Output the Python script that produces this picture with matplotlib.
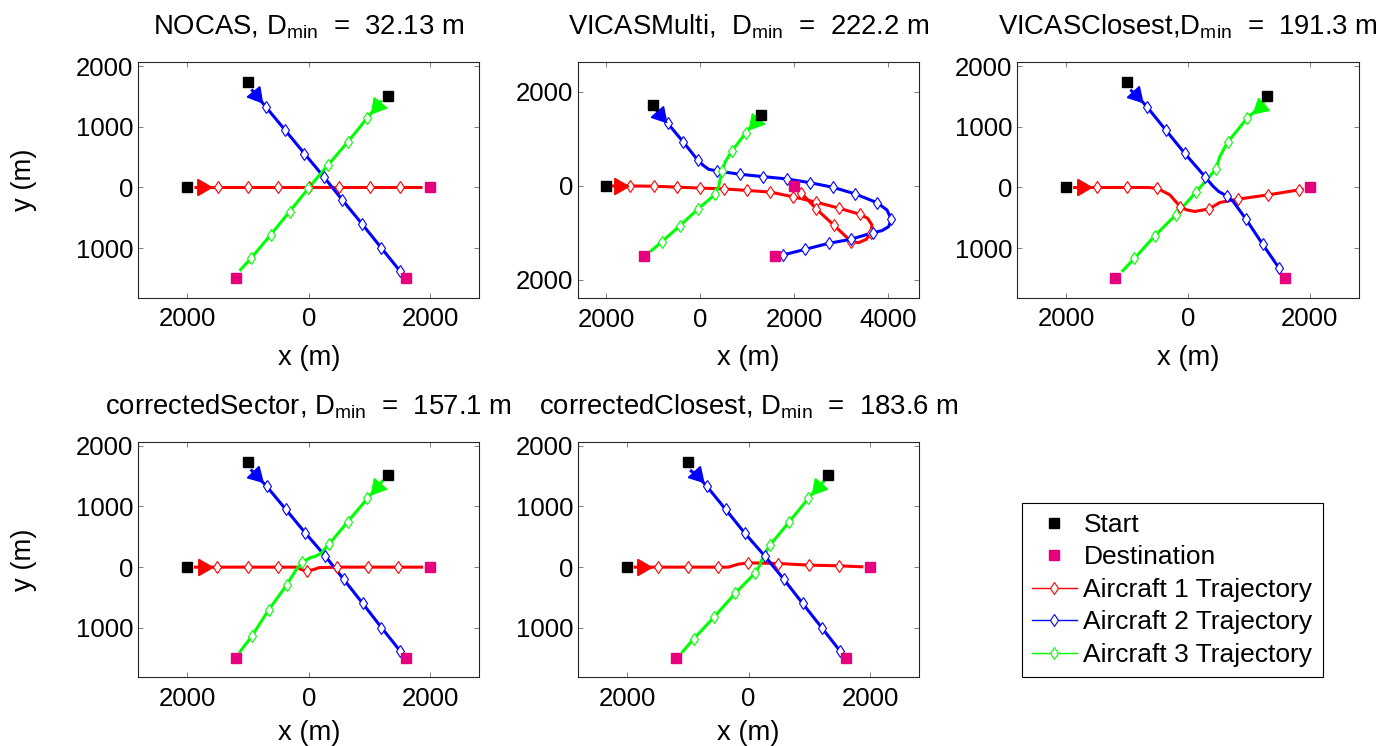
import numpy as np
import matplotlib.pyplot as plt
from matplotlib.lines import Line2D

plt.rcParams['font.family'] = ['Liberation Sans', 'DejaVu Sans']
plt.rcParams['mathtext.fontset'] = 'custom'
plt.rcParams['mathtext.rm'] = 'Liberation Sans'

# =========================
# DATA (m)
# =========================
start_x = [-2000, -1000, 1300]
start_y = [0, 1732, 1513]
dest_x = [2000, 1597, -1200]
dest_y = [0, -1495, -1495]

# path codes: '-' plain vertex, 'a' direction arrow, 'd' diamond marker
nocas_x = [[-1890, -1750, -1500, -1000, -500, 0, 500, 1000, 1500, 1870],
           [-945, -870, -712, -395, -71, 247, 554, 872, 1189, 1497, 1535],
           [1200, 1118, 959, 641, 313, -5, -317, -630, -949, -1140]]
nocas_y = [[0, 0, 0, 0, 0, 0, 0, 0, 0, 0],
           [1615, 1527, 1333, 951, 557, 175, -208, -595, -989, -1372, -1426],
           [1430, 1336, 1143, 749, 366, -11, -398, -782, -1164, -1372]]
nocas_k = ["-addddddd-", "-adddddddd-", "-addddddd-"]

multi_x = [[-1880, -1740, -1489, -993, -496, 0, 496, 994, 1489, 1972, 2468, 2943, 3404,
            3560, 3652, 3631, 3532, 3369, 3213, 2837, 2468, 2142, 2030],
           [-940, -851, -695, -369, -57, 60, 177, 355, 851, 1333, 1844, 2326, 2823, 3298, 3759,
            3972, 4064, 4007, 3865, 3674, 3206, 2730, 2234, 1759, 1730],
           [1260, 1170, 972, 674, 532, 461, 390, 319, -57, -440, -816, -1064]]
multi_y = [[0, 0, 0, -5, -25, -45, -62, -95, -130, -230, -345, -470, -605,
            -688, -830, -1000, -1135, -1206, -1185, -830, -489, -142, -30],
           [1620, 1511, 1333, 943, 553, 440, 355, 319, 248, 199, 149, 71, -28, -170, -355,
            -511, -709, -866, -951, -993, -1135, -1220, -1348, -1468, -1476],
           [1470, 1369, 1135, 745, 518, 319, -14, -177, -496, -851, -1184, -1397]]
multi_k = ["-addddddddddd--d--dddd-", "-addd--dddddddd-d--ddddd-", "-add-d-dddd-"]

closest_x = [[-1890, -1749, -1500, -1000, -650, -504, -301, -181, -137, -27, 110, 345, 521,
              811, 1316, 1815, 1897],
             [-950, -855, -680, -367, -55, 274, 400, 500, 631, 740, 949, 1223, 1497, 1524],
             [1250, 1184, 970, 655, 590, 521, 455, 137, -203, -548, -883, -1091]]
closest_y = [[0, 0, 0, 0, 0, -15, -121, -258, -313, -368, -395, -351, -247,
              -193, -121, -40, -25],
             [1610, 1525, 1333, 945, 561, 181, 30, -65, -137, -231, -521, -934, -1333, -1372],
             [1420, 1333, 1142, 755, 640, 510, 302, -66, -450, -796, -1169, -1388]]
closest_k = ["-add-d--d--d-ddd-", "-adddd--d-ddd-", "-add--ddddd-"]

sector_x = [[-1890, -1738, -1510, -1000, -500, -213, -110, -22, 80, 170, 471, 970, 1475, 1880],
            [-955, -872, -696, -378, -60, 265, 576, 888, 1195, 1502, 1540],
            [1220, 1129, 965, 640, 334, 197, 100, 33, -104, -213, -367, -663, -938, -1146]]
sector_y = [[0, 0, 0, 0, 0, 0, -45, -60, -40, -8, 0, 0, 0, 0],
            [1610, 1516, 1335, 951, 566, 190, -203, -599, -995, -1379, -1430],
            [1430, 1324, 1132, 747, 379, 225, 175, 159, 88, -49, -297, -709, -1137, -1412]]
sector_k = ["-addd--d--ddd-", "-adddddddd-", "-addd---d-ddd-"]

corrclosest_x = [[-1890, -1747, -1496, -1003, -499, -334, -170, -5, 488, 992, 1485, 1885],
                 [-964, -855, -690, -378, -60, 268, 581, 888, 1200, 1501, 1545],
                 [1255, 1145, 981, 668, 351, 268, 214, 186, 110, -225, -564, -899, -1101]]
corrclosest_y = [[0, 0, 0, 0, 0, 0, 49, 71, 60, 33, 22, 5],
                 [1599, 1516, 1335, 951, 555, 181, -203, -599, -995, -1379, -1434],
                 [1434, 1324, 1132, 747, 363, 225, 115, 33, -93, -434, -819, -1176, -1412]]
corrclosest_k = ["-addd--dddd-", "-adddddddd-", "-addd---dddd-"]

titles = [r"NOCAS, $\mathregular{D_{min}}$  =  32.13 m",
          r"VICASMulti,  $\mathregular{D_{min}}$  =  222.2 m",
          r"VICASClosest,$\mathregular{D_{min}}$  =  191.3 m",
          r"correctedSector, $\mathregular{D_{min}}$  =  157.1 m",
          r"correctedClosest, $\mathregular{D_{min}}$  =  183.6 m"]

cores = ['#ff0000', '#0000ff', '#00ff00']
cor_dest = '#e6007e'

# =========================
# FIGURA
# =========================
W, H = 1379, 746
fig = plt.figure(figsize=(W / 100, H / 100), dpi=100)


def eixo(l, t, r, b):
    return fig.add_axes([l / W, 1 - b / H, (r - l) / W, (b - t) / H])


def desenhar(ax, xs, ys, ks):
    for x, y, k, c in zip(xs, ys, ks, cores):
        x = np.array(x, dtype=float)
        y = np.array(y, dtype=float)
        ax.plot(x, y, color=c, lw=2.2, zorder=2, solid_capstyle='butt')
        d = [i for i, ch in enumerate(k) if ch == 'd']
        ax.plot(x[d], y[d], ls='none', marker='d', ms=6.5, mec=c, mfc='white',
                mew=0.8, zorder=3)
        i = k.index('a')
        ang = np.degrees(np.arctan2(y[i + 1] - y[i], x[i + 1] - x[i]))
        ax.plot(x[i], y[i], ls='none', marker=(3, 0, ang - 90), ms=13.5,
                color=c, mec=c, zorder=3)
    ax.plot(start_x, start_y, ls='none', marker='s', ms=7.5, color='k', zorder=4)
    ax.plot(dest_x, dest_y, ls='none', marker='s', ms=7.5, color=cor_dest, zorder=4)


def estilo(ax, titulo, xt, xtl, yt, ytl, xlim, ylim, ylabel, xlab_y=-0.2):
    ax.set_xlim(xlim)
    ax.set_ylim(ylim)
    ax.set_xticks(xt, xtl)
    ax.set_yticks(yt, ytl)
    ax.tick_params(axis='both', direction='in', length=3.4, width=0.7, color='#7f7f7f',
                   top=True, right=True, labelsize=18.5, labelcolor='black')
    ax.tick_params(axis='x', pad=7)
    ax.tick_params(axis='y', pad=3.6)
    for s in ax.spines.values():
        s.set_color('#262626')
        s.set_linewidth(0.8)
    ax.set_title(titulo, fontsize=19.8, pad=20)
    ax.set_xlabel("x (m)", fontsize=19.8)
    ax.xaxis.set_label_coords(0.5, xlab_y)
    if ylabel:
        ax.set_ylabel("y (m)", fontsize=19.8)
        ax.yaxis.set_label_coords(-0.298, 0.5)


xt = [-2000, 0, 2000]
xtl = ["2000", "0", "2000"]
yt = [-1000, 0, 1000, 2000]
ytl = ["1000", "0", "1000", "2000"]
xlim = (-2806, 2806)
ylim = (-1815, 2062)

ax1 = eixo(138.3, 62.3, 479.3, 297.7)
desenhar(ax1, nocas_x, nocas_y, nocas_k)
estilo(ax1, titles[0], xt, xtl, yt, ytl, xlim, ylim, True)

ax2 = eixo(578, 62.3, 919.3, 298.3)
desenhar(ax2, multi_x, multi_y, multi_k)
estilo(ax2, titles[1], [-2000, 0, 2000, 4000], ["2000", "0", "2000", "4000"],
       [-2000, 0, 2000], ["2000", "0", "2000"], (-2603, 4660), (-2390, 2631), False)

ax3 = eixo(1017.3, 62.3, 1359, 297.7)
desenhar(ax3, closest_x, closest_y, closest_k)
estilo(ax3, titles[2], xt, xtl, yt, ytl, xlim, ylim, False)

ax4 = eixo(138.3, 442, 479.3, 677.3)
desenhar(ax4, sector_x, sector_y, sector_k)
estilo(ax4, titles[3], xt, xtl, yt, ytl, xlim, ylim, True, xlab_y=-0.18)

ax5 = eixo(578, 442, 919.3, 677.3)
desenhar(ax5, corrclosest_x, corrclosest_y, corrclosest_k)
estilo(ax5, titles[4], xt, xtl, yt, ytl, xlim, ylim, False, xlab_y=-0.18)

# =========================
# LEGENDA
# =========================
handles = [
    Line2D([], [], ls='none', marker='s', ms=7.5, color='k', label='Start'),
    Line2D([], [], ls='none', marker='s', ms=7.5, color=cor_dest, label='Destination'),
]
for n, c in enumerate(cores):
    handles.append(Line2D([], [], color=c, lw=1, marker='d', ms=6.5, mfc='white', mec=c,
                          mew=0.8, label=f'Aircraft {n + 1} Trajectory'))

leg = fig.legend(handles=handles, loc='upper left',
                 bbox_to_anchor=(1022 / W, 1 - 503 / H), borderaxespad=0,
                 fontsize=19, handlelength=1.7, handletextpad=0.25,
                 borderpad=0.38, labelspacing=0.32, fancybox=False, framealpha=1)
leg.get_frame().set_edgecolor('black')
leg.get_frame().set_linewidth(0.8)

plt.savefig("out.png", dpi=100)
